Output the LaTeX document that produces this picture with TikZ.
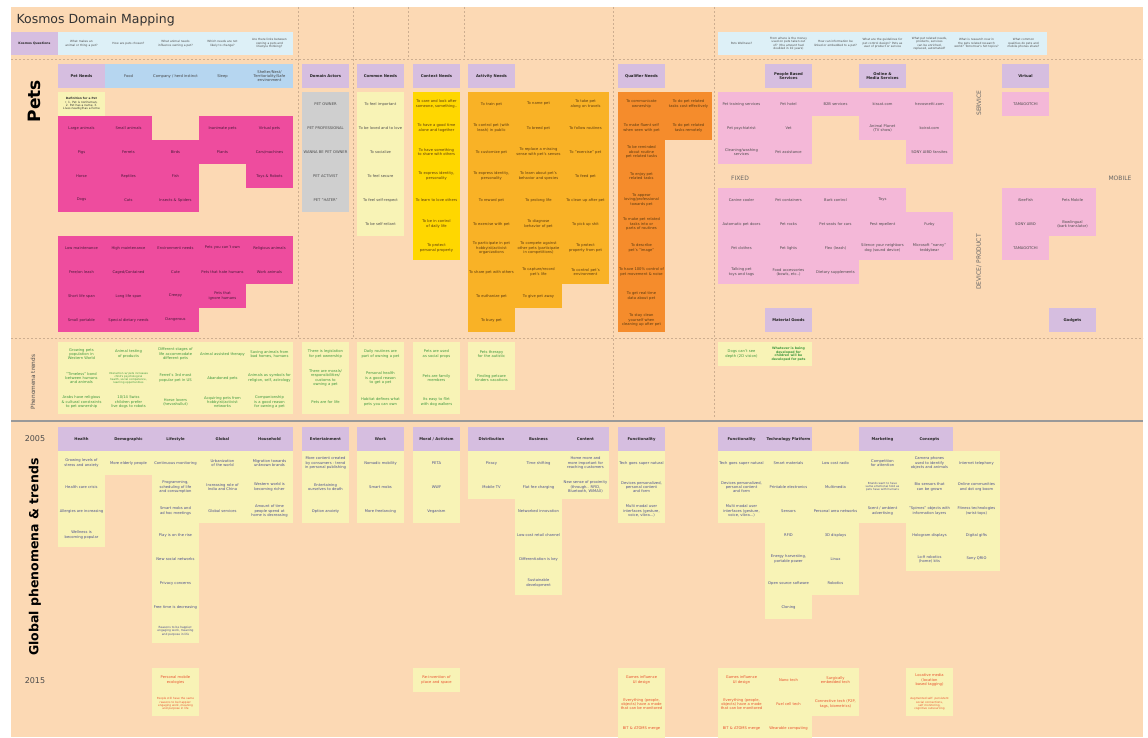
\documentclass[tikz,border=0pt]{standalone}
\usepackage{fontspec}
\setmainfont{DejaVu Sans}
\hyphenpenalty=10000
\exhyphenpenalty=10000
\newcounter{cc}
\definecolor{bgc}{HTML}{FCD9B4}
\definecolor{purc}{HTML}{D6BEE0}
\definecolor{bluec}{HTML}{B6D6F0}
\definecolor{qbluec}{HTML}{DDF0F7}
\definecolor{magc}{HTML}{EE4C9E}
\definecolor{magt}{HTML}{4A1A3A}
\definecolor{grayc}{HTML}{CFCFCF}
\definecolor{goldc}{HTML}{FFD700}
\definecolor{ornc}{HTML}{F9B226}
\definecolor{dornc}{HTML}{F58C2C}
\definecolor{brownt}{HTML}{5A3A10}
\definecolor{lpkc}{HTML}{F4B8D8}
\definecolor{ylwc}{HTML}{F8F3B6}
\definecolor{greent}{HTML}{3C963C}
\definecolor{navyt}{HTML}{4A4E8E}
\definecolor{redt}{HTML}{E8502E}
\definecolor{linec}{HTML}{CDAE90}
\tikzset{
 base/.style={minimum width=47.4pt,minimum height=24.4pt,inner sep=0pt,text width=45pt,align=center,font=\fontsize{3.7}{4.3}\selectfont},
 hpur/.style={base,fill=purc,text=black!85,font=\bfseries\fontsize{3.8}{4.4}\selectfont,minimum height=23.5pt},
 hblue/.style={base,fill=bluec,text=black!75,minimum height=23.5pt},
 mag/.style={base,fill=magc,text=magt},
 gry/.style={base,fill=grayc,text=black!70},
 gold/.style={base,fill=goldc,text=brownt},
 orn/.style={base,fill=ornc,text=brownt},
 dorn/.style={base,fill=dornc,text=brownt},
 lpk/.style={base,fill=lpkc,text=black!70},
 ylw/.style={base,fill=ylwc,text=black!70},
 phen/.style={base,fill=ylwc,text=greent},
 glob/.style={base,fill=ylwc,text=navyt},
 yr/.style={base,fill=ylwc,text=redt},
 ques/.style={base,fill=qbluec,text=black!70,font=\fontsize{2.9}{3.4}\selectfont,minimum height=23pt},
 small/.style={font=\fontsize{2.9}{3.4}\selectfont},
 dashln/.style={draw=linec,dash pattern=on 2pt off 2pt,line width=0.7pt},
 side/.style={text=black!60,font=\fontsize{6}{7}\selectfont},
}
\newcommand\cell[4]{\stepcounter{cc}\node[#3] (c\arabic{cc}) at ({#1+23.5},{#2+12}) {#4};}
\newcommand\qcell[2]{\stepcounter{cc}\node[ques] (c\arabic{cc}) at ({#1+23.5},43.5) {#2};}
\begin{document}
\begin{tikzpicture}[x=1pt,y=-1pt]
\useasboundingbox (0,0) rectangle (1148,737);
\fill[white] (0,0) rectangle (1148,737);
\fill[bgc] (11,7) rectangle (1143,737);
% lines
\draw[dashln] (11,59) -- (1143,59);
\draw[dashln] (11,338) -- (1143,338);
\draw[dashln] (298,7) -- (298,338);
\draw[dashln] (353,7) -- (353,338);
\draw[dashln] (408,7) -- (408,59);
\draw[dashln] (464,7) -- (464,59);
\draw[dashln] (613,7) -- (613,418);
\draw[dashln] (714,7) -- (714,418);
\draw[line width=2.5pt,black!40] (11,421) -- (1143,421);
% titles
\node[anchor=west,text=black!80,font=\fontsize{12.5}{14}\selectfont] (title) at (13,20) {Kosmos Domain Mapping};
\node[rotate=90,font=\bfseries\fontsize{17}{19}\selectfont] (pets) at (34,101) {Pets};
\node[rotate=90,text=black!70,font=\fontsize{5.8}{7}\selectfont] (phen) at (33,382) {Phenomena trends};
\node[text=black!70,font=\fontsize{8}{9}\selectfont] (y2005) at (35,439) {2005};
\node[rotate=90,font=\bfseries\fontsize{12.5}{14}\selectfont] (glob) at (35,557) {Global phenomena \& trends};
\node[text=black!70,font=\fontsize{8}{9}\selectfont] (y2015) at (35,681) {2015};
\node[side,rotate=90] (service) at (979,103) {SERVICE};
\node[side,rotate=90] (device) at (979,262) {DEVICE/ PRODUCT};
\node[side] (fixed) at (740,178) {FIXED};
\node[side] (mobile) at (1120,178) {MOBILE};
% questions
\stepcounter{cc}\node[ques,fill=purc,text=black!85,font=\bfseries\fontsize{3.1}{3.6}\selectfont] (kq) at (34.5,43.5) {Kosmos Questions};
\qcell{58}{What makes an animal or thing a pet?}
\qcell{105}{How are pets chosen?}
\qcell{152}{What animal needs influence owning a pet?}
\qcell{199}{Which needs are not likely to change?}
\qcell{246}{Are there links between owning a pets and lifestyle thinking?}
\qcell{718}{Pets Wellness?}
\qcell{765}{From where is the money used on pets taken out of? (the amount had doubled in 10 years)}
\qcell{812}{How can information be linked or embedded to a pet?}
\qcell{859}{What are the guidelines for pet control design? Pets as user of product or service}
\qcell{906}{What pet related needs, products, services can be enriched, replaced, automated?}
\qcell{953}{What is research now in the pets related research world? Tomorrow's hot topics?}
\qcell{1000}{What common qualities do pets and mobile phones share?}
% pets headers
\cell{58}{64}{hpur}{Pet Needs}
\cell{105}{64}{hblue}{Food}
\cell{152}{64}{hblue}{Company / herd instinct}
\cell{199}{64}{hblue}{Sleep}
\cell{246}{64}{hblue}{Shelter/Nest/ Territoriality/Safe environment}
\cell{302}{64}{hpur}{Domain Actors}
\cell{357}{64}{hpur}{Common Needs}
\cell{413}{64}{hpur}{Context Needs}
\cell{468}{64}{hpur}{Activity Needs}
\cell{618}{64}{hpur}{Qualifier Needs}
\cell{765}{64}{hpur}{People Based Services}
\cell{859}{64}{hpur}{Online \& Media Services}
\cell{1002}{64}{hpur}{Virtual}
% pet needs
\cell{58}{92}{ylw,text=black!80,small}{\textbf{Definition for a Pet :} 1. Pet is nonhuman, 2. Pet has a name, 3. Lives nearby/has a home}
\cell{58}{116}{mag}{Large animals}
\cell{105}{116}{mag}{Small animals}
\cell{199}{116}{mag}{Inanimate pets}
\cell{246}{116}{mag}{Virtual pets}
\cell{58}{140}{mag}{Pigs}
\cell{105}{140}{mag}{Ferrets}
\cell{152}{140}{mag}{Birds}
\cell{199}{140}{mag}{Plants}
\cell{246}{140}{mag}{Cars/machines}
\cell{58}{164}{mag}{Horse}
\cell{105}{164}{mag}{Reptiles}
\cell{152}{164}{mag}{Fish}
\cell{246}{164}{mag}{Toys \& Robots}
\cell{58}{188}{mag}{Dogs}
\cell{105}{188}{mag}{Cats}
\cell{152}{188}{mag}{Insects \& Spiders}
\cell{58}{236}{mag}{Low maintenance}
\cell{105}{236}{mag}{High maintenance}
\cell{152}{236}{mag}{Environment needs}
\cell{199}{236}{mag}{Pets you can't own}
\cell{246}{236}{mag}{Religious animals}
\cell{58}{260}{mag}{Free/on leash}
\cell{105}{260}{mag}{Caged/Contained}
\cell{152}{260}{mag}{Cute}
\cell{199}{260}{mag}{Pets that hate humans}
\cell{246}{260}{mag}{Work animals}
\cell{58}{284}{mag}{Short life span}
\cell{105}{284}{mag}{Long life span}
\cell{152}{284}{mag}{Creepy}
\cell{199}{284}{mag}{Pets that ignore humans}
\cell{58}{308}{mag}{Small portable}
\cell{105}{308}{mag}{Special dietary needs}
\cell{152}{308}{mag}{Dangerous}
% domain actors
\cell{302}{92}{gry}{PET OWNER}
\cell{302}{116}{gry}{PET PROFESSIONAL}
\cell{302}{140}{gry}{WANNA BE PET OWNER}
\cell{302}{164}{gry}{PET ACTIVIST}
\cell{302}{188}{gry}{PET "HATER"}
% common needs
\cell{357}{92}{ylw}{To feel important}
\cell{357}{116}{ylw}{To be loved and to love}
\cell{357}{140}{ylw}{To socialize}
\cell{357}{164}{ylw}{To feel secure}
\cell{357}{188}{ylw}{To feel self-respect}
\cell{357}{212}{ylw}{To be self-reliant}
% context needs
\cell{413}{92}{gold}{To care and look after someone, something..}
\cell{413}{116}{gold}{To have a good time alone and together}
\cell{413}{140}{gold}{To have something to share with others}
\cell{413}{164}{gold}{To express identity, personality}
\cell{413}{188}{gold}{To learn to love others}
\cell{413}{212}{gold}{To be in control of daily life}
\cell{413}{236}{gold}{To protect personal property}
% activity needs
\cell{468}{92}{orn}{To train pet}
\cell{515}{92}{orn}{To name pet}
\cell{562}{92}{orn}{To take pet along on travels}
\cell{468}{116}{orn}{To control pet (with leash) in public}
\cell{515}{116}{orn}{To breed pet}
\cell{562}{116}{orn}{To follow routines}
\cell{468}{140}{orn}{To customize pet}
\cell{515}{140}{orn}{To replace a missing sense with pet's senses}
\cell{562}{140}{orn}{To "exercise" pet}
\cell{468}{164}{orn}{To express identity, personality}
\cell{515}{164}{orn}{To learn about pet's behavior and species}
\cell{562}{164}{orn}{To feed pet}
\cell{468}{188}{orn}{To reward pet}
\cell{515}{188}{orn}{To prolong life}
\cell{562}{188}{orn}{To clean up after pet}
\cell{468}{212}{orn}{To exercise with pet}
\cell{515}{212}{orn}{To diagnose behavior of pet}
\cell{562}{212}{orn}{To pick up shit}
\cell{468}{236}{orn}{To participate in pet hobbyist/activist organizations}
\cell{515}{236}{orn}{To compete against other pets (participate in competitions)}
\cell{562}{236}{orn}{To protect property from pet}
\cell{468}{260}{orn}{To share pet with others}
\cell{515}{260}{orn}{To capture/record pet's life}
\cell{562}{260}{orn}{To control pet's environment}
\cell{468}{284}{orn}{To euthanize pet}
\cell{515}{284}{orn}{To give pet away}
\cell{468}{308}{orn}{To bury pet}
% qualifier needs
\cell{618}{92}{dorn}{To communicate ownership}
\cell{665}{92}{dorn}{To do pet related tasks cost-effectively}
\cell{618}{116}{dorn}{To make fluent self when seen with pet}
\cell{665}{116}{dorn}{To do pet related tasks remotely}
\cell{618}{140}{dorn}{To be reminded about routine pet related tasks}
\cell{618}{164}{dorn}{To enjoy pet related tasks}
\cell{618}{188}{dorn}{To appear loving/professional towards pet}
\cell{618}{212}{dorn}{To make pet related tasks into or parts of routines}
\cell{618}{236}{dorn}{To describe pet's "image"}
\cell{618}{260}{dorn}{To have 100\% control of pet movement \& noise}
\cell{618}{284}{dorn}{To get real-time data about pet}
\cell{618}{308}{dorn}{To stay clean yourself when cleaning up after pet}
% services
\cell{718}{92}{lpk}{Pet training services}
\cell{765}{92}{lpk}{Pet hotel}
\cell{812}{92}{lpk}{B2B services}
\cell{718}{116}{lpk}{Pet psychiatrist}
\cell{765}{116}{lpk}{Vet}
\cell{718}{140}{lpk}{Cleaning/washing services}
\cell{765}{140}{lpk}{Pet assistance}
\cell{859}{92}{lpk}{kissat.com}
\cell{906}{92}{lpk}{hevosnetti.com}
\cell{859}{116}{lpk}{Animal Planet (TV show)}
\cell{906}{116}{lpk}{koirat.com}
\cell{906}{140}{lpk}{SONY AIBO fansites}
\cell{1002}{92}{lpk}{TAMAGOTCHI}
% devices
\cell{718}{188}{lpk}{Canine cooler}
\cell{765}{188}{lpk}{Pet containers}
\cell{812}{188}{lpk}{Bark control}
\cell{859}{188}{lpk}{Toys}
\cell{718}{212}{lpk}{Automatic pet doors}
\cell{765}{212}{lpk}{Pet rocks}
\cell{812}{212}{lpk}{Pet seats for cars}
\cell{859}{212}{lpk}{Pest repellent}
\cell{906}{212}{lpk}{Furby}
\cell{718}{236}{lpk}{Pet clothes}
\cell{765}{236}{lpk}{Pet lights}
\cell{812}{236}{lpk}{Flex (leash)}
\cell{859}{236}{lpk}{Silence your neighbors dog (sound device)}
\cell{906}{236}{lpk}{Microsoft "nanny" teddybear}
\cell{718}{260}{lpk}{Talking pet toys and tags}
\cell{765}{260}{lpk}{Food accessories (bowls, etc..)}
\cell{812}{260}{lpk}{Dietary supplements}
\cell{765}{308}{hpur}{Material Goods}
\cell{1002}{188}{lpk}{iSeeFish}
\cell{1049}{188}{lpk}{Pets Mobile}
\cell{1002}{212}{lpk}{SONY AIBO}
\cell{1049}{212}{lpk}{Bowlingual (bark translator)}
\cell{1002}{236}{lpk}{TAMAGOTCHI}
\cell{1049}{308}{hpur}{Gadgets}
% phenomena trends
\cell{58}{342}{phen}{Growing pets population in Western World}
\cell{105}{342}{phen}{Animal testing of products}
\cell{152}{342}{phen}{Different stages of life accommodate different pets}
\cell{199}{342}{phen}{Animal assisted therapy}
\cell{246}{342}{phen}{Saving animals from bad homes, humans}
\cell{58}{366}{phen}{"Timeless" bond between humans and animals}
\cell{105}{366}{phen,font=\fontsize{2.7}{3.1}\selectfont}{Interaction w/ pets increases child's psychological health, social competence, learning opportunities}
\cell{152}{366}{phen}{Ferret's 3rd most popular pet in US}
\cell{199}{366}{phen}{Abandoned pets}
\cell{246}{366}{phen}{Animals as symbols for religion, self, astrology}
\cell{58}{390}{phen}{Arabs have religious \& cultural constraints to pet ownership}
\cell{105}{390}{phen}{10/14 Swiss children prefer live dogs to robots}
\cell{152}{390}{phen}{Horse lovers (hevoshullut)}
\cell{199}{390}{phen}{Acquiring pets from hobbyist/activist networks}
\cell{246}{390}{phen}{Companionship is a good reason for owning a pet}
\cell{302}{342}{phen}{There is legislation for pet ownership}
\cell{302}{366}{phen}{There are morals/ responsibilities/ customs to owning a pet}
\cell{302}{390}{phen}{Pets are for life}
\cell{357}{342}{phen}{Daily routines are part of owning a pet}
\cell{357}{366}{phen}{Personal health is a good reason to get a pet}
\cell{357}{390}{phen}{Habitat defines what pets you can own}
\cell{413}{342}{phen}{Pets are used as social props}
\cell{413}{366}{phen}{Pets are family members}
\cell{413}{390}{phen}{Its easy to flirt with dog walkers}
\cell{468}{342}{phen}{Pets therapy for the autistic}
\cell{468}{366}{phen}{Finding petcare hinders vacations}
\cell{718}{342}{phen}{Dogs can't see depth (2D vision)}
\cell{765}{342}{phen,font=\bfseries\fontsize{3.2}{3.7}\selectfont}{Whatever is being developed for children will be developed for pets}
% global headers
\cell{58}{427}{hpur}{Health}
\cell{105}{427}{hpur}{Demographic}
\cell{152}{427}{hpur}{Lifestyle}
\cell{199}{427}{hpur}{Global}
\cell{246}{427}{hpur}{Household}
\cell{302}{427}{hpur}{Entertainment}
\cell{357}{427}{hpur}{Work}
\cell{413}{427}{hpur}{Moral / Activism}
\cell{468}{427}{hpur}{Distribution}
\cell{515}{427}{hpur}{Business}
\cell{562}{427}{hpur}{Content}
\cell{618}{427}{hpur}{Functionality}
\cell{718}{427}{hpur}{Functionality}
\cell{765}{427}{hpur}{Technology Platform}
\cell{859}{427}{hpur}{Marketing}
\cell{906}{427}{hpur}{Concepts}
% global content
\cell{58}{451}{glob}{Growing levels of stress and anxiety}
\cell{58}{475}{glob}{Health care crisis}
\cell{58}{499}{glob}{Allergies are increasing}
\cell{58}{523}{glob}{Wellness is becoming popular}
\cell{105}{451}{glob}{More elderly people}
\cell{152}{451}{glob}{Continuous monitoring}
\cell{152}{475}{glob}{Programming, scheduling of life and consumption}
\cell{152}{499}{glob}{Smart mobs and ad hoc meetings}
\cell{152}{523}{glob}{Play is on the rise}
\cell{152}{547}{glob}{New social networks}
\cell{152}{571}{glob}{Privacy concerns}
\cell{152}{595}{glob}{Free time is decreasing}
\cell{152}{619}{glob,font=\fontsize{2.9}{3.4}\selectfont}{Reasons to be happier: engaging work, meaning and purpose in life}
\cell{199}{451}{glob}{Urbanization of the world}
\cell{199}{475}{glob}{Increasing role of India and China}
\cell{199}{499}{glob}{Global services}
\cell{246}{451}{glob}{Migration towards unknown brands}
\cell{246}{475}{glob}{Western world is becoming richer}
\cell{246}{499}{glob}{Amount of time people spend at home is decreasing}
\cell{302}{451}{glob}{More content created by consumers - trend in personal publishing}
\cell{302}{475}{glob}{Entertaining ourselves to death}
\cell{302}{499}{glob}{Option anxiety}
\cell{357}{451}{glob}{Nomadic mobility}
\cell{357}{475}{glob}{Smart mobs}
\cell{357}{499}{glob}{More freelancing}
\cell{413}{451}{glob}{PETA}
\cell{413}{475}{glob}{WWF}
\cell{413}{499}{glob}{Veganism}
\cell{468}{451}{glob}{Piracy}
\cell{468}{475}{glob}{Mobile TV}
\cell{515}{451}{glob}{Time shifting}
\cell{515}{475}{glob}{Flat fee charging}
\cell{515}{499}{glob}{Networked innovation}
\cell{515}{523}{glob}{Low-cost retail channel}
\cell{515}{547}{glob}{Differentiation is key}
\cell{515}{571}{glob}{Sustainable development}
\cell{562}{451}{glob}{Home more and more important for reaching customers}
\cell{562}{475}{glob}{New sense of proximity (through.. RFID, Bluetooth, WiMAX)}
\cell{618}{451}{glob}{Tech goes super natural}
\cell{618}{475}{glob}{Devices personalized, personal content and form}
\cell{618}{499}{glob}{Multi modal user interfaces (gesture, voice, vibra...)}
\cell{718}{451}{glob}{Tech goes super natural}
\cell{718}{475}{glob}{Devices personalized, personal content and form}
\cell{718}{499}{glob}{Multi modal user interfaces (gesture, voice, vibra...)}
\cell{765}{451}{glob}{Smart materials}
\cell{765}{475}{glob}{Printable electronics}
\cell{765}{499}{glob}{Sensors}
\cell{765}{523}{glob}{RFID}
\cell{765}{547}{glob}{Energy harvesting, portable power}
\cell{765}{571}{glob}{Open source software}
\cell{765}{595}{glob}{Cloning}
\cell{812}{451}{glob}{Low cost radio}
\cell{812}{475}{glob}{Multimedia}
\cell{812}{499}{glob}{Personal area networks}
\cell{812}{523}{glob}{3D displays}
\cell{812}{547}{glob}{Linux}
\cell{812}{571}{glob}{Robotics}
\cell{859}{451}{glob}{Competition for attention}
\cell{859}{475}{glob,font=\fontsize{2.8}{3.2}\selectfont}{Brands want to have same emotional hold as pets have with humans}
\cell{859}{499}{glob}{Scent / ambient advertising}
\cell{906}{451}{glob}{Camera phones used to identify objects and animals}
\cell{906}{475}{glob}{Bio sensors that can be grown}
\cell{906}{499}{glob}{"Spimes" objects with information layers}
\cell{906}{523}{glob}{Hologram displays}
\cell{906}{547}{glob}{Lo-fi robotics (home) kits}
\cell{953}{451}{glob}{Internet telephony}
\cell{953}{475}{glob}{Online communities and dot org boom}
\cell{953}{499}{glob}{Fitness technologies (wrist-tops)}
\cell{953}{523}{glob}{Digital gifts}
\cell{953}{547}{glob}{Sony QRIO}
% 2015
\cell{152}{668}{yr}{Personal mobile ecologies}
\cell{152}{692}{yr,font=\fontsize{2.8}{3.2}\selectfont}{People still have the same reasons to be happier: engaging work, meaning and purpose in life}
\cell{413}{668}{yr}{Re-invention of place and space}
\cell{618}{668}{yr}{Games influence UI design}
\cell{618}{692}{yr}{Everything (people, objects) have a mode that can be monitored}
\cell{618}{716}{yr}{BIT \& ATOMS merge}
\cell{718}{668}{yr}{Games influence UI design}
\cell{718}{692}{yr}{Everything (people, objects) have a mode that can be monitored}
\cell{718}{716}{yr}{BIT \& ATOMS merge}
\cell{765}{668}{yr}{Nano tech}
\cell{765}{692}{yr}{Fuel cell tech}
\cell{765}{716}{yr}{Wearable computing}
\cell{812}{668}{yr}{Surgically embedded tech}
\cell{812}{692}{yr}{Connective tech (P2P, tags, biometrics)}
\cell{906}{668}{yr}{Locative media (location based tagging)}
\cell{906}{692}{yr,font=\fontsize{2.8}{3.2}\selectfont}{Augmented self: persistent social connections, self monitoring, cognitive outsourcing}
\end{tikzpicture}
\end{document}
